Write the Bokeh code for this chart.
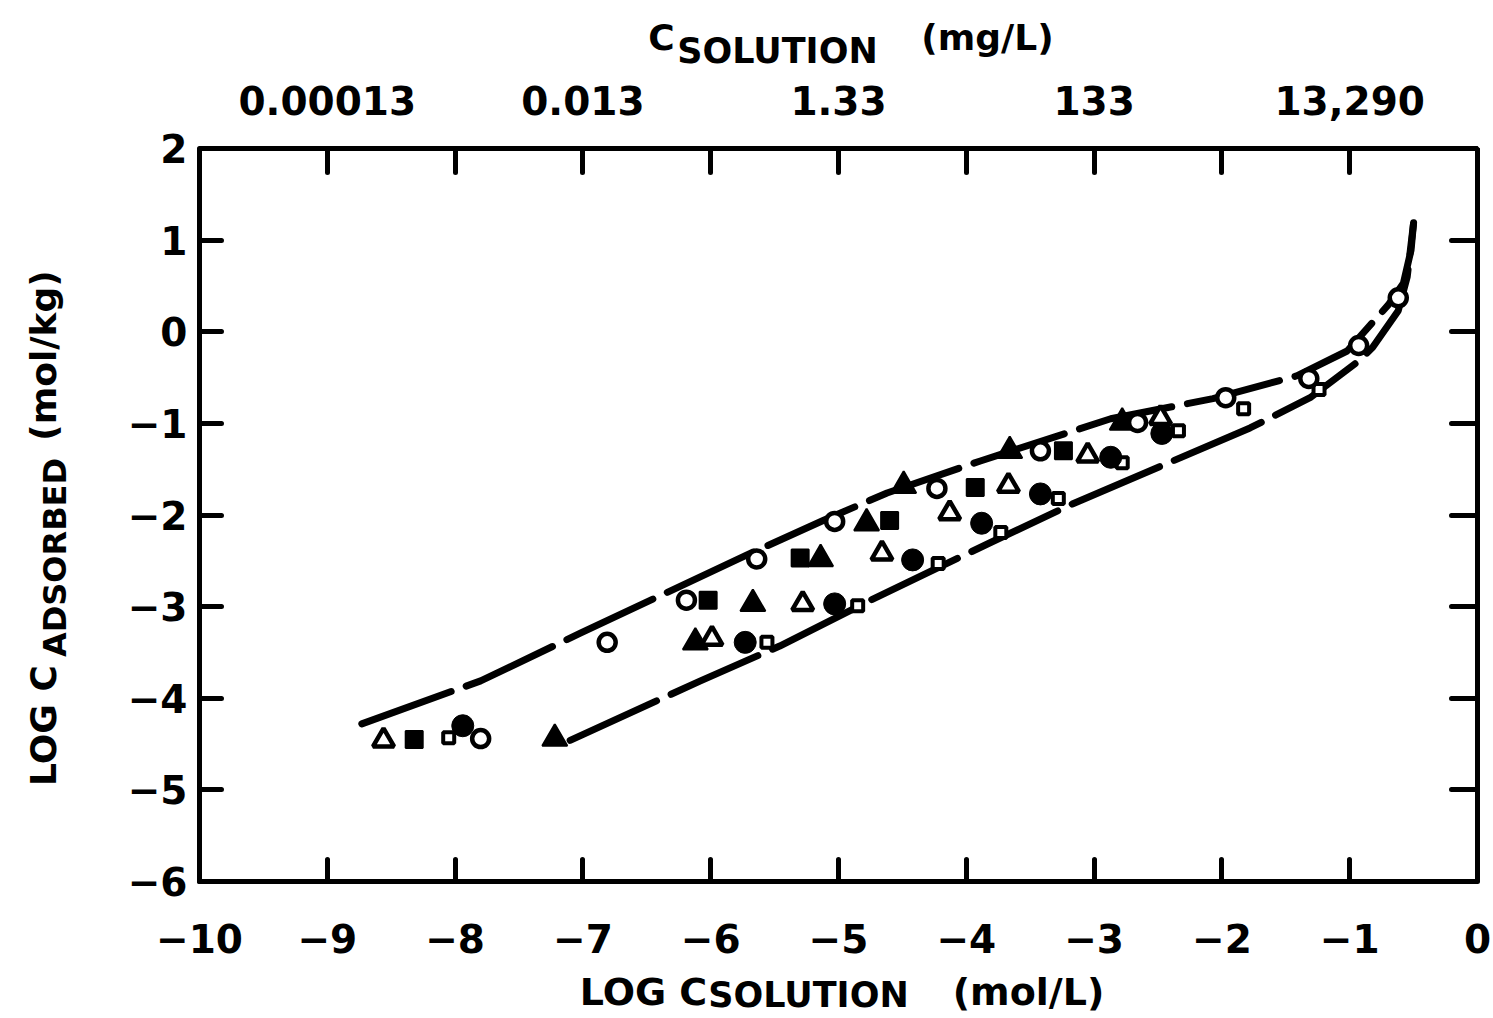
from bokeh.plotting import figure
from bokeh.models import LinearAxis, FixedTicker
from bokeh.embed import file_html
from bokeh.resources import INLINE

# ---- data -------------------------------------------------------------
# log C_solution (mol/L), log C_adsorbed (mol/kg)
open_circle_x = [-7.80, -6.81, -6.19, -5.64, -5.03, -4.23, -3.42, -2.66, -1.97, -1.32, -0.93, -0.62]
open_circle_y = [-4.44, -3.39, -2.93, -2.48, -2.07, -1.71, -1.30, -0.99, -0.72, -0.51, -0.15, 0.37]

filled_circle_x = [-7.94, -5.73, -5.03, -4.42, -3.88, -3.42, -2.87, -2.47]
filled_circle_y = [-4.30, -3.39, -2.97, -2.49, -2.09, -1.77, -1.37, -1.11]

filled_triangle_x = [-7.22, -6.12, -5.67, -5.14, -4.78, -4.49, -3.66, -2.78]
filled_triangle_y = [-4.44, -3.39, -2.97, -2.48, -2.09, -1.68, -1.30, -0.99]

open_triangle_x = [-8.56, -5.99, -5.28, -4.66, -4.13, -3.67, -3.05, -2.48]
open_triangle_y = [-4.46, -3.35, -2.97, -2.42, -1.98, -1.68, -1.35, -0.94]

filled_square_x = [-8.32, -6.02, -5.30, -4.60, -3.93, -3.24]
filled_square_y = [-4.45, -2.93, -2.47, -2.06, -1.70, -1.30]

open_square_x = [-8.05, -5.56, -4.85, -4.22, -3.73, -3.28, -2.78, -2.34, -1.83, -1.24]
open_square_y = [-4.43, -3.39, -2.99, -2.53, -2.19, -1.82, -1.43, -1.08, -0.84, -0.63]

# bounding model curves
upper_x = [-8.73, -7.80, -7.02, -5.77, -5.12, -4.62, -3.89, -2.87, -2.07, -1.41, -1.02, -0.70, -0.58, -0.52, -0.50]
upper_y = [-4.28, -3.81, -3.29, -2.47, -2.06, -1.76, -1.41, -0.95, -0.73, -0.48, -0.21, 0.29, 0.53, 0.89, 1.19]

lower_x = [-7.10, -6.08, -5.46, -4.75, -3.81, -3.17, -1.78, -1.31, -0.92, -0.82, -0.62, -0.55, -0.50]
lower_y = [-4.46, -3.81, -3.43, -2.93, -2.30, -1.88, -1.05, -0.72, -0.31, -0.17, 0.23, 0.60, 1.19]

# axis ticks
x_ticks = list(range(-10, 1))
y_ticks = list(range(-6, 3))
top_tick_values = [-9, -7, -5, -3, -1]
top_tick_labels = ["0.00013", "0.013", "1.33", "133", "13,290"]

# ---- layout -----------------------------------------------------------
W, H = 1493, 1018
FL, FR, FT, FB = 199, 1477, 148, 881
X0, X1, Y0, Y1 = -10, 0, -6, 2
FONT = "DejaVu Sans"
TICK_FONT = "39px"


def dx(px):
    return round(X0 + (px - FL) / (FR - FL) * (X1 - X0), 4)


def dy(py):
    return round(Y1 - (py - FT) / (FB - FT) * (Y1 - Y0), 4)


p = figure(width=W, height=H, x_range=(X0, X1), y_range=(Y0, Y1),
           output_backend="svg", toolbar_location=None,
           min_border_left=FL, min_border_right=W - FR,
           min_border_top=FT, min_border_bottom=H - FB)
p.grid.visible = False
p.outline_line_color = "black"
p.outline_line_width = 5
p.background_fill_color = "white"
p.border_fill_color = "white"


def style_axis(ax, tick_in, size=TICK_FONT):
    ax.axis_line_width = 5
    ax.axis_line_color = "black"
    ax.major_tick_in = tick_in
    ax.major_tick_out = 0
    ax.major_tick_line_width = 5
    ax.major_tick_line_color = "black"
    ax.major_tick_line_cap = "round"
    ax.minor_tick_line_color = None
    ax.major_label_text_font = FONT
    ax.major_label_text_font_style = "bold"
    ax.major_label_text_font_size = size
    ax.major_label_text_color = "black"


def minus(v):
    return ("\u2212" + str(-v)) if v < 0 else str(v)


xb = p.xaxis[0]
xb.ticker = FixedTicker(ticks=x_ticks)
style_axis(xb, 22)
xb.major_label_overrides = {v: minus(v) for v in x_ticks}
xb.major_label_standoff = 42

yl = p.yaxis[0]
yl.ticker = FixedTicker(ticks=y_ticks)
style_axis(yl, 22)
yl.major_label_overrides = {v: minus(v) for v in y_ticks}
yl.major_label_standoff = 12

top = LinearAxis(ticker=FixedTicker(ticks=x_ticks[1:-1]))
style_axis(top, 24)
ov = {v: "" for v in x_ticks[1:-1]}
ov.update(dict(zip(top_tick_values, top_tick_labels)))
top.major_label_overrides = ov
top.major_label_standoff = 34
p.add_layout(top, "above")

right = LinearAxis(ticker=FixedTicker(ticks=y_ticks[1:-1]))
style_axis(right, 26, size="1px")
right.major_label_overrides = {v: "" for v in y_ticks[1:-1]}
right.major_label_standoff = 0
p.add_layout(right, "right")


# ---- axis titles: each piece is a label of a tick-less axis -------------
def title_row(side, centers, texts, size, standoff):
    ax = LinearAxis(ticker=FixedTicker(ticks=centers))
    ax.axis_line_color = None
    ax.major_tick_line_color = None
    ax.minor_tick_line_color = None
    ax.major_tick_in = 0
    ax.major_tick_out = 0
    ax.major_label_overrides = dict(zip(centers, texts))
    ax.major_label_text_font = FONT
    ax.major_label_text_font_style = "bold"
    ax.major_label_text_font_size = size
    ax.major_label_text_color = "black"
    ax.major_label_standoff = standoff
    if side in ("left", "right"):
        ax.major_label_orientation = "vertical"
    p.add_layout(ax, side)


# bottom: LOG C_SOLUTION (mol/L)
title_row("below", [dx(643), dx(1028)], ["LOG C", "(mol/L)"], "38px", 14)
title_row("below", [dx(808)], ["SOLUTION"], "35px", -42)

# top: C_SOLUTION (mg/L)
title_row("above", [dx(777)], ["SOLUTION"], "35px", 12)
title_row("above", [dx(661), dx(987)], ["C", "(mg/L)"], "36px", -30)

# left: LOG C_ADSORBED (mol/kg)
title_row("left", [dy(557)], ["ADSORBED"], "32px", 50)
title_row("left", [dy(725), dy(355)], ["LOG C", "(mol/kg)"], "36px", -31)

# ---- curves -----------------------------------------------------------
for cx, cy in ((upper_x, upper_y), (lower_x, lower_y)):
    p.line(cx, cy, line_color="black", line_width=7, line_dash="95 16",
           line_cap="round", line_join="round")

# ---- markers ----------------------------------------------------------
p.scatter(open_square_x, open_square_y, marker="square", size=11,
          fill_color="white", line_color="black", line_width=4)
p.scatter(filled_square_x, filled_square_y, marker="square", size=17,
          fill_color="black", line_color="black", line_width=2)
p.scatter(open_triangle_x, open_triangle_y, marker="triangle", size=21,
          fill_color="white", line_color="black", line_width=4.5)
p.scatter(filled_triangle_x, filled_triangle_y, marker="triangle", size=25,
          fill_color="black", line_color="black", line_width=2)
p.scatter(filled_circle_x, filled_circle_y, marker="circle", size=22,
          fill_color="black", line_color="black", line_width=1)
p.scatter(open_circle_x, open_circle_y, marker="circle", size=17,
          fill_color="white", line_color="black", line_width=4.5)

open("out.html", "w").write(file_html(p, INLINE))
